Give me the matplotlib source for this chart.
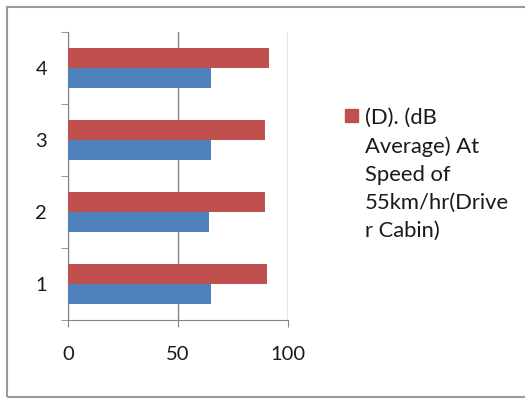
import numpy as np
import matplotlib
matplotlib.use("Agg")
from matplotlib import pyplot as plt
from matplotlib.patches import Rectangle

categories = ["1", "2", "3", "4"]
blue_values = [65, 64, 65, 65]
red_values = [90.3, 89.4, 89.4, 91.4]
x_ticks = [0, 50, 100]
legend_label = "(D). (dB\nAverage) At\nSpeed of\n55km/hr(Drive\nr Cabin)"

RED = "#C0504D"
BLUE = "#4F81BD"

plt.rcParams["font.family"] = ["Lato", "DejaVu Sans"]

fig = plt.figure(figsize=(5.25, 3.99), dpi=100)
ax = fig.add_axes([68 / 525, 1 - 320 / 399, 220 / 525, 288 / 399])

y = np.arange(len(categories))
h = 0.278
ax.barh(y + h / 2, red_values, height=h, color=RED, zorder=3)
ax.barh(y - h / 2, blue_values, height=h, color=BLUE, zorder=3)

ax.set_xlim(0, 100)
ax.set_ylim(-0.5, len(categories) - 0.5)
ax.set_xticks(x_ticks)
ax.set_xticklabels([str(v) for v in x_ticks], fontsize=14.5, color="#1a1a1a")
ax.set_yticks(y)
ax.set_yticklabels(categories, fontsize=14.5, color="#1a1a1a")
ax.set_yticks(np.arange(-0.5, len(categories)), minor=True)
ax.tick_params(axis="y", which="major", length=0, pad=15)
ax.tick_params(axis="y", which="minor", length=5, color="#868686", direction="out")
ax.tick_params(axis="x", length=5, color="#868686", pad=14)
ax.grid(axis="x", color="#868686", linewidth=1, zorder=0)
for side in ["top", "right"]:
    ax.spines[side].set_visible(False)
for side in ["left", "bottom"]:
    ax.spines[side].set_color("#868686")

# legend (only the red series is shown)
fig.patches.append(Rectangle((345 / 525, 1 - 122 / 399), 13 / 525, 13 / 399,
                             transform=fig.transFigure, color=RED))
fig.text(365 / 525, 1 - 108 / 399, legend_label, fontsize=15.8, va="top", ha="left",
         linespacing=1.5, color="#1a1a1a")

# outer chart border
fig.patches.append(Rectangle((7 / 525, 1 - 397 / 399), 540 / 525, 390 / 399,
                             transform=fig.transFigure, fill=False,
                             edgecolor="#9a9a9a", linewidth=1.5))

fig.savefig("out.png", dpi=100)
